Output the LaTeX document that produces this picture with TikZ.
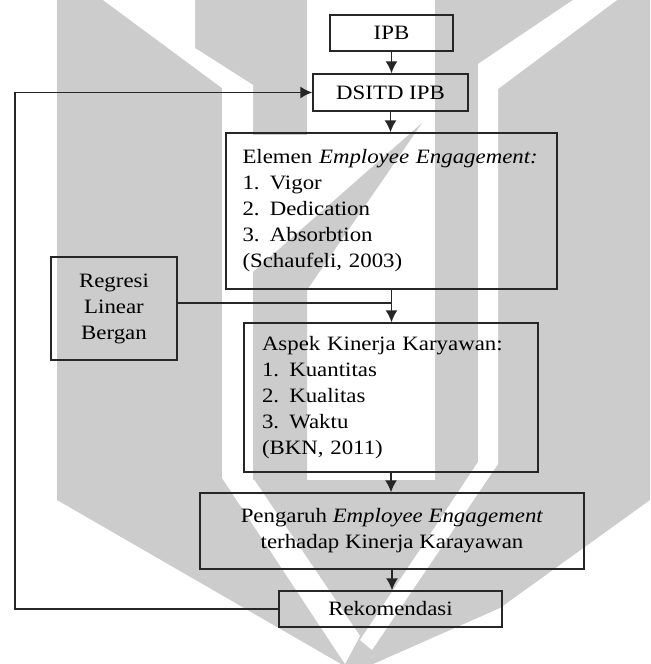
\documentclass[tikz,border=0pt]{standalone}
\usepackage{fontspec}
\setmainfont{Liberation Serif}[FakeStretch=1.12]
\usetikzlibrary{arrows.meta, positioning}
\pgfdeclarelayer{bg}
\pgfsetlayers{bg,main}
\tikzset{
	stage/.style = {rectangle, draw = black!85, line width = 0.75pt, inner sep = 0pt, align = center, font = \fontsize{10.2}{13}\selectfont},
	list/.style = {stage, align = left},
	link/.style = {draw = black!85, line width = 0.75pt},
	arrow/.style = {link, -{Latex[length = 6pt, width = 6pt]}},
	logo/.style = {fill = black!20, draw = none},
	gap/.style = {fill = white, draw = none}
}
\begin{document}
\begin{tikzpicture}[x = 0.5pt, y = -0.5pt]
	\useasboundingbox (0,0) rectangle (650,664);
	
	%% nodes
	\node (ipb) [stage, minimum width = 61.5pt, minimum height = 18pt] at (391.5,33) {IPB};
	\node (dsitd) [stage, minimum width = 77.5pt, minimum height = 18.5pt] at (390.5,92.5) {DSITD IPB};
	\node (elemen) [list, text width = 149pt, inner xsep = 8.25pt, minimum height = 78pt] at (391.5,211) {Elemen \textit{Employee Engagement:}\\ 1. Vigor\\ 2. Dedication\\ 3. Absorbtion\\ (Schaufeli, 2003)};
	\node (regresi) [stage, minimum width = 63pt, minimum height = 51.5pt] at (114,308.5) {Regresi\\ Linear\\ Bergan};
	\node (aspek) [list, text width = 129pt, inner xsep = 9pt, minimum height = 74.5pt] at (391,397.5) {Aspek Kinerja Karyawan:\\ 1. Kuantitas\\ 2. Kualitas\\ 3. Waktu\\ (BKN, 2011)};
	\node (pengaruh) [stage, minimum width = 192pt, minimum height = 38pt] at (392,531) {Pengaruh \textit{Employee Engagement}\\ terhadap Kinerja Karayawan};
	\node (rekom) [stage, minimum width = 111.5pt, minimum height = 18pt] at (390.5,609) {Rekomendasi};
	
	\coordinate (join) at (391.5,303);
	\coordinate (loop) at (15,350);
	
	%% arrows
	\draw [arrow] (ipb) -- (ipb |- dsitd.north);
	\draw [arrow] (dsitd) -- (dsitd |- elemen.north);
	\draw [arrow] (elemen) -- (elemen |- aspek.north);
	\draw [link] (regresi.east |- join) -- (join);
	\draw [arrow] (aspek) -- (aspek |- pengaruh.north);
	\draw [arrow] (pengaruh) -- (pengaruh |- rekom.north);
	\draw [arrow] (rekom.west) -| (loop) |- (dsitd.west);
	
	%% watermark
	\begin{pgfonlayer}{bg}
		\begin{scope}
			\clip (0,0) rectangle (650,664);
			\fill [logo] (57,0) -- (650,0) -- (650,500) -- (500,608) -- (355,672) -- (57,500) -- cycle;
			\fill [gap] (103,0) -- (195,0) -- (195,48) -- (253,85) -- (253,478) -- (360,636) -- (345,664) -- (222,478) -- (222,88) -- cycle;
			\fill [gap] (573,0) -- (617,0) -- (498,89) -- (498,464) -- (372,650) -- (360,640) -- (478,462) -- (478,64) -- cycle;
			\fill [gap] (307,0) rectangle (435,480);
			\fill [gap] (253,135) rectangle (307,290);
			\fill [logo] (422,123) -- (307,290) -- (307,480) -- (253,480) -- (253,272) -- cycle;
		\end{scope}
	\end{pgfonlayer}
\end{tikzpicture}
\end{document}
